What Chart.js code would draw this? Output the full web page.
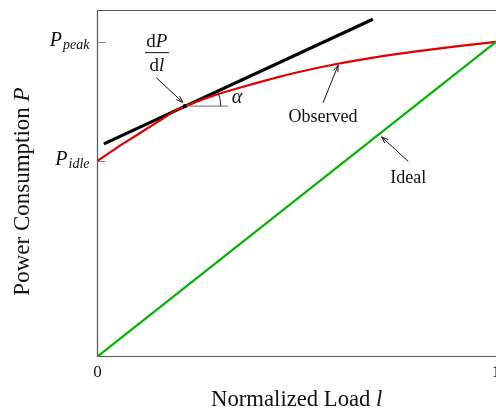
<!DOCTYPE html>
<html>
<head>
<meta charset="utf-8">
<script src="https://cdn.jsdelivr.net/npm/chart.js@4.4.1/dist/chart.umd.min.js"></script>
<style>
html, body { margin: 0; padding: 0; background: #fff; overflow: hidden; }
#wrap { width: 530px; height: 412px; }
</style>
</head>
<body>
<div id="wrap"><canvas id="powerChart" width="530" height="412"></canvas></div>
<script>

// normalized load l and observed power P (P_peak = 1)
const loadLevels = [0, 0.05, 0.1, 0.15, 0.2, 0.25, 0.3, 0.35, 0.4, 0.45, 0.5, 0.6, 0.7, 0.8, 0.9, 1];
const observedPower = [0.622, 0.665, 0.705, 0.745, 0.784, 0.811, 0.833, 0.852, 0.870, 0.887, 0.903, 0.930, 0.952, 0.970, 0.986, 1];

const idealLoad = [0, 1];
const idealPower = [0, 1];

const tangentLoad = [0.016, 0.691];
const tangentPower = [0.676, 1.072];
const tangentPoint = [0.219, 0.796];

const yTickValues = [0.622, 1];
const yTickNames = [['P', 'idle'], ['P', 'peak']];
const xTickValues = [0, 1];
const xTickLabels = ['0', '1'];

const SERIF = "'Liberation Serif', 'Times New Roman', serif";

function toPoints(xs, ys) {
    return xs.map((x, i) => ({ x: x, y: ys[i] }));
}

function arrow(ctx, x1, y1, x2, y2) {

    const a = Math.atan2(y2 - y1, x2 - x1);
    const len = 7;

    ctx.beginPath();
    ctx.moveTo(x1, y1);
    ctx.lineTo(x2, y2);
    ctx.stroke();

    ctx.beginPath();
    ctx.moveTo(x2 - len * Math.cos(a - 0.35), y2 - len * Math.sin(a - 0.35));
    ctx.lineTo(x2, y2);
    ctx.lineTo(x2 - len * Math.cos(a + 0.35), y2 - len * Math.sin(a + 0.35));
    ctx.stroke();

}

const framePlugin = {

    id: 'frame',

    beforeDatasetsDraw(chart) {

        const ctx = chart.ctx;
        const area = chart.chartArea;
        const xs = chart.scales.x;
        const ys = chart.scales.y;

        ctx.save();

        ctx.strokeStyle = '#555';
        ctx.lineWidth = 1.2;
        ctx.beginPath();
        ctx.moveTo(area.right + 20, area.top);
        ctx.lineTo(area.left, area.top);
        ctx.lineTo(area.left, area.bottom);
        ctx.lineTo(area.right + 20, area.bottom);
        ctx.stroke();

        // inward ticks
        ctx.strokeStyle = '#888';
        ctx.lineWidth = 1;
        yTickValues.forEach(v => {
            const py = Math.round(ys.getPixelForValue(v)) + 0.5;
            ctx.beginPath();
            ctx.moveTo(area.left, py);
            ctx.lineTo(area.left + 8, py);
            ctx.stroke();
        });

        // y tick labels with subscripts
        ctx.fillStyle = '#111';
        ctx.textBaseline = 'alphabetic';
        ctx.textAlign = 'left';
        yTickNames.forEach((name, i) => {
            const py = ys.getPixelForValue(yTickValues[i]);
            ctx.font = 'italic 20px ' + SERIF;
            const w1 = ctx.measureText(name[0]).width;
            ctx.font = 'italic 14px ' + SERIF;
            const w2 = ctx.measureText(name[1]).width;
            const x0 = area.left - 8 - w1 - w2 - 1;
            ctx.font = 'italic 20px ' + SERIF;
            ctx.fillText(name[0], x0, py + 4.5);
            ctx.font = 'italic 14px ' + SERIF;
            ctx.fillText(name[1], x0 + w1 + 1, py + 7);
        });

        // x tick labels
        ctx.font = '17px ' + SERIF;
        ctx.textAlign = 'center';
        xTickValues.forEach((v, i) => {
            ctx.fillText(xTickLabels[i], xs.getPixelForValue(v), area.bottom + 20);
        });

        // x axis title
        ctx.font = '22.7px ' + SERIF;
        const t1 = 'Normalized Load ';
        const w1 = ctx.measureText(t1).width;
        ctx.font = 'italic 22.7px ' + SERIF;
        const w2 = ctx.measureText('l').width;
        const cx = (area.left + area.right) / 2;
        ctx.textAlign = 'left';
        ctx.font = '22.7px ' + SERIF;
        ctx.fillText(t1, cx - (w1 + w2) / 2, 406);
        ctx.font = 'italic 22.7px ' + SERIF;
        ctx.fillText('l', cx - (w1 + w2) / 2 + w1, 406);

        // y axis title
        ctx.translate(28.5, 191.5);
        ctx.rotate(-Math.PI / 2);
        ctx.font = '23px ' + SERIF;
        const y1 = 'Power Consumption ';
        const yw1 = ctx.measureText(y1).width;
        ctx.font = 'italic 23px ' + SERIF;
        const yw2 = ctx.measureText('P').width;
        ctx.font = '23px ' + SERIF;
        ctx.fillText(y1, -(yw1 + yw2) / 2, 0);
        ctx.font = 'italic 23px ' + SERIF;
        ctx.fillText('P', -(yw1 + yw2) / 2 + yw1, 0);

        ctx.restore();

    },

    afterDatasetsDraw(chart) {

        const ctx = chart.ctx;
        const xs = chart.scales.x;
        const ys = chart.scales.y;
        const px = v => xs.getPixelForValue(v);
        const py = v => ys.getPixelForValue(v);

        ctx.save();

        // tangent point, horizontal reference and angle arc
        const tx = px(tangentPoint[0]);
        const ty = py(tangentPoint[1]);

        ctx.strokeStyle = '#888';
        ctx.lineWidth = 1.2;
        ctx.beginPath();
        ctx.moveTo(tx, ty);
        ctx.lineTo(px(0.327), ty);
        ctx.stroke();

        const ang = Math.atan2(
            py(tangentPower[1]) - py(tangentPower[0]),
            px(tangentLoad[1]) - px(tangentLoad[0])
        );
        ctx.strokeStyle = '#222';
        ctx.lineWidth = 1;
        ctx.beginPath();
        ctx.arc(tx, ty, 36, ang, 0);
        ctx.stroke();

        ctx.fillStyle = '#000';
        ctx.beginPath();
        ctx.arc(tx, ty, 2.2, 0, Math.PI * 2);
        ctx.fill();

        ctx.fillStyle = '#111';
        ctx.font = 'italic 20px ' + SERIF;
        ctx.textAlign = 'center';
        ctx.textBaseline = 'middle';
        ctx.fillText('\u03b1', px(0.350), py(0.823));

        // annotation arrows
        ctx.strokeStyle = '#111';
        ctx.lineWidth = 1;
        arrow(ctx, px(0.566), py(0.807), px(0.604), py(0.926));
        arrow(ctx, px(0.780), py(0.620), px(0.713), py(0.698));
        arrow(ctx, px(0.148), py(0.886), px(0.214), py(0.808));

        ctx.font = '18px ' + SERIF;
        ctx.fillText('Observed', px(0.566), py(0.760));
        ctx.fillText('Ideal', px(0.780), py(0.567));

        // dP/dl fraction
        const fx = px(0.149);
        const fy = py(0.966);
        ctx.textBaseline = 'alphabetic';
        ctx.textAlign = 'left';
        ctx.font = '19px ' + SERIF;
        const dw = ctx.measureText('d').width;
        ctx.font = 'italic 19px ' + SERIF;
        const pw = ctx.measureText('P').width;
        const lw = ctx.measureText('l').width;
        ctx.font = '19px ' + SERIF;
        ctx.fillText('d', fx - (dw + pw) / 2, fy - 5.5);
        ctx.fillText('d', fx - (dw + lw) / 2, fy + 18);
        ctx.font = 'italic 19px ' + SERIF;
        ctx.fillText('P', fx - (dw + pw) / 2 + dw, fy - 5.5);
        ctx.fillText('l', fx - (dw + lw) / 2 + dw, fy + 18);
        ctx.lineWidth = 1;
        ctx.beginPath();
        ctx.moveTo(fx - 12, fy);
        ctx.lineTo(fx + 12, fy);
        ctx.stroke();

        ctx.restore();

    }

};

new Chart(document.getElementById('powerChart'), {

    type: 'scatter',

    data: {

        datasets: [
            {
                label: 'Ideal',
                data: toPoints(idealLoad, idealPower),
                showLine: true,
                borderColor: 'rgb(0, 180, 0)',
                borderWidth: 2.2,
                pointRadius: 0
            },
            {
                label: 'Observed',
                data: toPoints(loadLevels, observedPower),
                showLine: true,
                borderColor: 'rgb(225, 0, 0)',
                borderWidth: 2.2,
                pointRadius: 0,
                cubicInterpolationMode: 'monotone'
            },
            {
                label: 'dP/dl',
                data: toPoints(tangentLoad, tangentPower),
                showLine: true,
                borderColor: '#000',
                borderWidth: 3.2,
                pointRadius: 0
            }
        ]

    },

    options: {

        responsive: false,
        animation: false,
        devicePixelRatio: 1,

        layout: {
            padding: { left: 97.5, top: 10.5, right: 34, bottom: 55.5 }
        },

        plugins: {
            legend: { display: false },
            tooltip: { enabled: false }
        },

        scales: {
            x: { type: 'linear', min: 0, max: 1, display: false },
            y: { type: 'linear', min: 0, max: 1.1, display: false }
        }

    },

    plugins: [framePlugin]

});

</script>
</body>
</html>
